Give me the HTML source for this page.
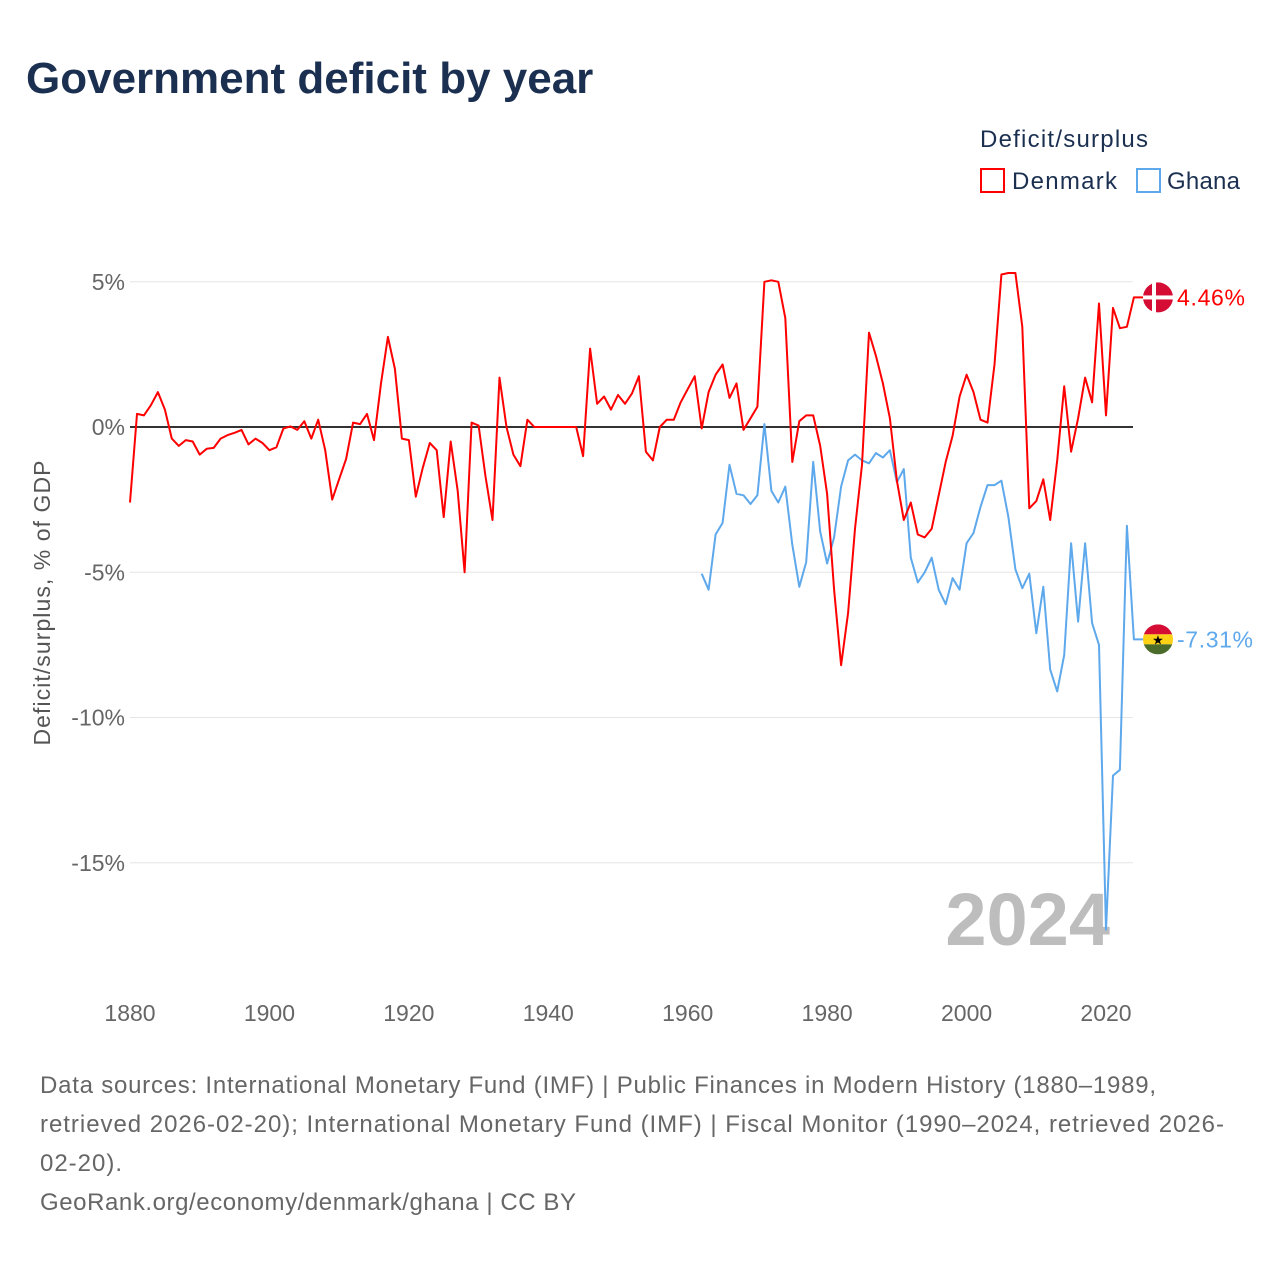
<!DOCTYPE html>
<html><head><meta charset="utf-8">
<style>
body{margin:0;background:#fff;width:1280px;height:1280px;overflow:hidden;font-family:"Liberation Sans",sans-serif;}
</style></head>
<body>
<svg id="chart" width="1280" height="1280" xmlns="http://www.w3.org/2000/svg">
<text x="26" y="93" font-size="44" font-weight="bold" fill="#1b3050">Government deficit by year</text>
<text x="980" y="147" font-size="24" fill="#1b3050" textLength="168">Deficit/surplus</text>
<g>
<rect x="981" y="169" width="23" height="23" fill="none" stroke="#ff0000" stroke-width="2"/>
<text x="1012" y="189" font-size="24" fill="#1b3050" textLength="105">Denmark</text></g>
<g>
<rect x="1137" y="169" width="23" height="23" fill="none" stroke="#5ea8ec" stroke-width="2"/>
<text x="1167" y="189" font-size="24" fill="#1b3050" textLength="73">Ghana</text></g>
<g id="grid"></g>
<g id="xt"></g>
<text transform="translate(50,603) rotate(-90)" text-anchor="middle" font-size="23" fill="#555" textLength="285">Deficit/surplus, % of GDP</text>
<text x="1110" y="945" text-anchor="end" font-size="74" font-weight="bold" fill="#bdbdbd">2024</text>
<g id="series"></g>
<g id="dkflag"></g>
<g id="ghflag"></g>
<text x="40" y="1093" font-size="24" fill="#666" textLength="1116">Data sources: International Monetary Fund (IMF) | Public Finances in Modern History (1880–1989,</text>
<text x="40" y="1132" font-size="24" fill="#666" textLength="1184">retrieved 2026-02-20); International Monetary Fund (IMF) | Fiscal Monitor (1990–2024, retrieved 2026-</text>
<text x="40" y="1171" font-size="24" fill="#666" textLength="82">02-20).</text>
<text x="40" y="1210" font-size="24" fill="#666" textLength="536">GeoRank.org/economy/denmark/ghana | CC BY</text>
</svg>
<script>
const dkStart = 1880;
const dkValues = [-2.6,0.45,0.4,0.75,1.2,0.6,-0.4,-0.65,-0.45,-0.5,-0.95,-0.75,-0.72,-0.4,-0.28,-0.2,-0.1,-0.6,-0.4,-0.55,
-0.8,-0.7,-0.05,0.02,-0.1,0.2,-0.4,0.25,-0.8,-2.5,-1.8,-1.1,0.15,0.1,0.45,-0.45,1.5,3.1,2.0,-0.4,
-0.45,-2.4,-1.4,-0.55,-0.8,-3.1,-0.5,-2.2,-5.0,0.15,0.05,-1.7,-3.2,1.7,0,-0.95,-1.35,0.25,0,0,
0,0,0,0,0,-1.0,2.7,0.8,1.05,0.6,1.1,0.8,1.15,1.75,-0.85,-1.15,0,0.25,0.25,0.85,
1.3,1.75,-0.05,1.2,1.8,2.15,1.0,1.5,-0.1,0.3,0.7,5.0,5.05,5.0,3.75,-1.2,0.2,0.4,0.4,-0.65,
-2.3,-5.6,-8.2,-6.4,-3.5,-1.3,3.25,2.45,1.5,0.3,-1.85,-3.2,-2.6,-3.7,-3.8,-3.5,-2.35,-1.2,-0.3,1.05,
1.8,1.2,0.25,0.15,2.15,5.25,5.3,5.3,3.45,-2.8,-2.55,-1.8,-3.2,-1.15,1.4,-0.85,0.3,1.7,0.85,4.25,
0.4,4.1,3.4,3.45,4.46];
const ghStart = 1962;
const ghValues = [-5.05,-5.6,-3.7,-3.3,-1.3,-2.3,-2.35,-2.65,-2.35,0.1,-2.2,-2.6,-2.05,-4.05,-5.5,-4.65,-1.2,-3.6,
-4.7,-3.8,-2.05,-1.15,-0.95,-1.15,-1.25,-0.9,-1.05,-0.8,-1.9,-1.45,-4.5,-5.35,-5.0,-4.5,-5.6,-6.1,-5.2,-5.6,
-4.0,-3.65,-2.75,-2.0,-2.0,-1.85,-3.1,-4.9,-5.55,-5.05,-7.1,-5.5,-8.35,-9.1,-7.85,-4.0,-6.7,-4.0,-6.75,-7.5,
-17.3,-12.0,-11.8,-3.4,-7.31];
const yTicks = [5,0,-5,-10,-15];
const yTickLabels = ["5%","0%","-5%","-10%","-15%"];
const xTicks = [1880,1900,1920,1940,1960,1980,2000,2020];

const NS="http://www.w3.org/2000/svg";
const X = y => 130 + (y-1880)*(976/140);
const Y = v => 427 - v*29.05;
function mk(tag, attrs, parent){const e=document.createElementNS(NS,tag);for(const k in attrs)e.setAttribute(k,attrs[k]);parent.appendChild(e);return e;}
const grid=document.getElementById('grid');
yTicks.forEach((t,i)=>{
  const l=mk('line',{x1:130,x2:1133,y1:Y(t),y2:Y(t),stroke:t===0?'#333':'#e6e6e6','stroke-width':t===0?2:1},grid);
  
  
  const tx=mk('text',{x:125,y:Y(t)+8,'text-anchor':'end','font-size':23,fill:'#666'},grid);
  tx.textContent=yTickLabels[i];
  
  
});
const xt=document.getElementById('xt');
xTicks.forEach(t=>{
  const tx=mk('text',{x:X(t),y:1021,'text-anchor':'middle','font-size':23,fill:'#666'},xt);
  tx.textContent=t;
  
  
});
const series=document.getElementById('series');
function line(start, vals, color, name){
  let d=vals.map((v,i)=>(i?'L':'M')+X(start+i).toFixed(1)+','+Y(v).toFixed(1)).join(' ');
  d+=' L1145,'+Y(vals[vals.length-1]).toFixed(1);
  const p=mk('path',{d:d,fill:'none',stroke:color,'stroke-width':2,'stroke-linejoin':'round'},series);
  
  
}
line(ghStart, ghValues, '#5ea8ec', 'ghana-line');
line(dkStart, dkValues, '#ff0000', 'denmark-line');
const dy=Y(dkValues[dkValues.length-1]), gy=Y(ghValues[ghValues.length-1]);
const dk=document.getElementById('dkflag');
mk('circle',{cx:1158,cy:dy,r:15,fill:'#d50c33'},dk);
mk('rect',{x:1143,y:dy-2,width:30,height:4,fill:'#fff'},dk);
mk('rect',{x:1152,y:dy-15,width:4,height:30,fill:'#fff'},dk);
const dl=mk('text',{x:1177,y:dy+8,'font-size':23,fill:'#ff0000',textLength:68},dk);dl.textContent=dkValues[dkValues.length-1].toFixed(2)+'%';


const gh=document.getElementById('ghflag');
mk('defs',{},gh).innerHTML='<clipPath id="gc"><circle cx="1158" cy="'+gy+'" r="15"/></clipPath>';
const g2=mk('g',{'clip-path':'url(#gc)'},gh);
mk('rect',{x:1143,y:gy-15,width:30,height:10,fill:'#d50c33'},g2);
mk('rect',{x:1143,y:gy-5,width:30,height:10,fill:'#fcd116'},g2);
mk('rect',{x:1143,y:gy+5,width:30,height:10,fill:'#4a6b2a'},g2);
const st=mk('text',{x:1158,y:gy+5,'text-anchor':'middle','font-size':13,fill:'#000'},gh);st.textContent='★';
const gl=mk('text',{x:1177,y:gy+8,'font-size':23,fill:'#5ea8ec',textLength:76},gh);gl.textContent=ghValues[ghValues.length-1].toFixed(2)+'%';


</script>
</body></html>
